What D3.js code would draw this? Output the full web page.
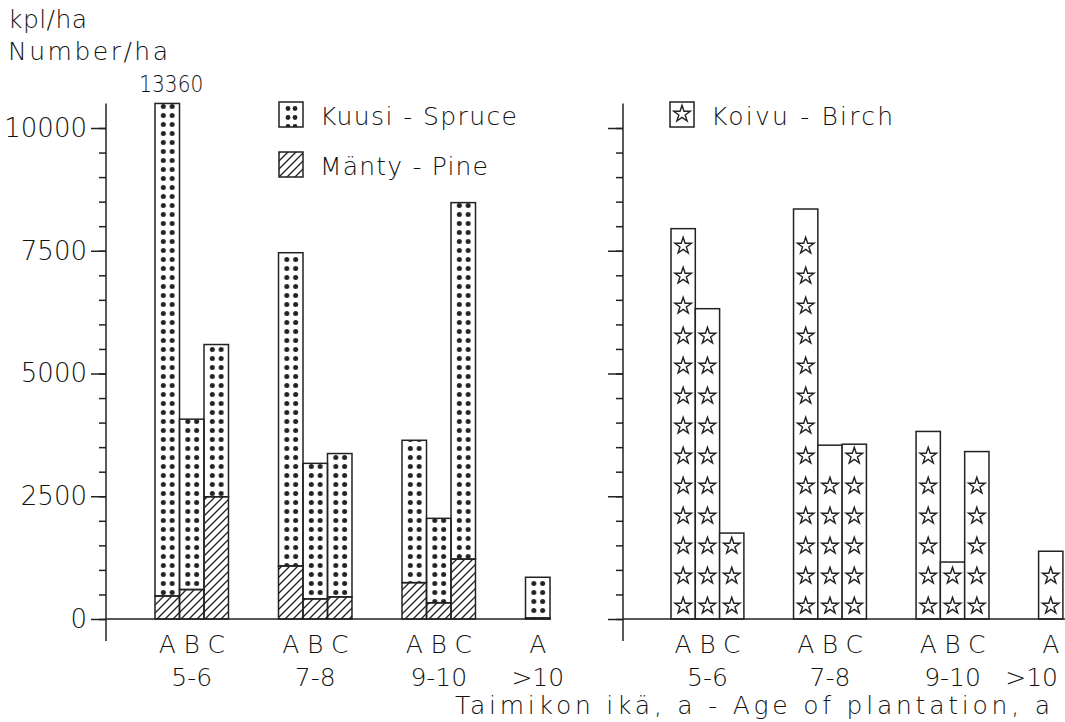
<!DOCTYPE html>
<html>
<head>
<meta charset="utf-8">
<script src="https://cdn.jsdelivr.net/npm/d3@7"></script>
<style>
  body { margin: 0; background: #fff; }
  text { font-family: "DejaVu Sans", sans-serif; font-weight: 200; fill: #111; }
</style>
</head>
<body>
<svg id="chart" width="1065" height="722"></svg>
<script>
const groups = ["5-6", "7-8", "9-10", ">10"];
const stands = ["A", "B", "C"];
const pine = [[470, 600, 2490], [1080, 410, 450], [740, 330, 1220], [20]];
const spruce = [[12890, 3470, 3100], [6380, 2760, 2920], [2900, 1720, 7260], [830]];
const birch = [[7950, 6320, 1750], [8350, 3540, 3560], [3820, 1160, 3410], [1380]];
const yTicks = [0, 2500, 5000, 7500, 10000];
const yMinorTicks = d3.range(0, 10001, 500);
const yTop = 10500;

const svg = d3.select("#chart");
const ink = "#222";

const y = d3.scaleLinear().domain([0, 10000]).range([619, 128]);
const xLeft = d3.scaleBand().domain(groups).range([155, 599]).paddingInner(0.405);
const xRight = d3.scaleBand().domain(groups).range([671, 1111.5]).paddingInner(0.405);
const xStandL = d3.scaleBand().domain(stands).range([0, xLeft.bandwidth()]);
const xStandR = d3.scaleBand().domain(stands).range([0, xRight.bandwidth()]);

const defs = svg.append("defs");

// hatch for pine
const hatch = defs.append("pattern")
  .attr("id", "hatch")
  .attr("patternUnits", "userSpaceOnUse")
  .attr("width", 8).attr("height", 8);
hatch.append("path")
  .attr("d", "M-2,2 L2,-2 M0,8 L8,0 M6,10 L10,6")
  .attr("stroke", ink).attr("stroke-width", 1.3);

function dotPattern(id, x0, w) {
  const p = defs.append("pattern")
    .attr("id", id)
    .attr("patternUnits", "userSpaceOnUse")
    .attr("x", x0).attr("y", y(0) - 4)
    .attr("width", w).attr("height", 9);
  p.append("circle").attr("cx", w * 0.34).attr("cy", 4.5).attr("r", 2.5).attr("fill", ink);
  p.append("circle").attr("cx", w * 0.7).attr("cy", 4.5).attr("r", 2.5).attr("fill", ink);
  return "url(#" + id + ")";
}

const star = d3.symbol().type(d3.symbolStar).size(85);

// rows
const leftRows = [];
const rightRows = [];
groups.forEach((g, gi) => {
  pine[gi].forEach((p, si) => {
    leftRows.push({ group: g, stand: stands[si], pine: p, spruce: spruce[gi][si] });
  });
  birch[gi].forEach((b, si) => {
    rightRows.push({ group: g, stand: stands[si], birch: b });
  });
});

// left panel bars
leftRows.forEach((d, i) => {
  const x0 = xLeft(d.group) + xStandL(d.stand);
  const w = xStandL.bandwidth();
  const total = Math.min(d.pine + d.spruce, yTop);
  svg.append("rect")
    .attr("x", x0).attr("y", y(total))
    .attr("width", w).attr("height", y(d.pine) - y(total))
    .attr("fill", dotPattern("dots" + i, x0, w))
    .attr("stroke", ink).attr("stroke-width", 1.5);
  svg.append("rect")
    .attr("x", x0).attr("y", y(d.pine))
    .attr("width", w).attr("height", y(0) - y(d.pine))
    .attr("fill", "url(#hatch)")
    .attr("stroke", ink).attr("stroke-width", 1.5);
  if (d.pine + d.spruce > yTop) {
    svg.append("text")
      .attr("x", x0 + w / 2 + 4).attr("y", 92)
      .attr("text-anchor", "middle")
      .attr("font-size", 23)
      .attr("textLength", 64).attr("lengthAdjust", "spacingAndGlyphs")
      .text(d.pine + d.spruce);
  }
});

// right panel bars
rightRows.forEach((d) => {
  const x0 = xRight(d.group) + xStandR(d.stand);
  const w = xStandR.bandwidth();
  svg.append("rect")
    .attr("x", x0).attr("y", y(d.birch))
    .attr("width", w).attr("height", y(0) - y(d.birch))
    .attr("fill", "#fff")
    .attr("stroke", ink).attr("stroke-width", 1.5);
  for (let cy = y(0) - 14; cy > y(d.birch) + 10; cy -= 30) {
    svg.append("path")
      .attr("d", star())
      .attr("transform", `translate(${x0 + w / 2},${cy + 1})`)
      .attr("fill", "none")
      .attr("stroke", ink).attr("stroke-width", 1.4);
  }
});

// axes
function drawAxis(xPos, withLabels, x1, x2) {
  svg.append("g")
    .attr("transform", `translate(${xPos},0)`)
    .call(d3.axisLeft(y).tickValues(yMinorTicks).tickSize(7).tickFormat(""))
    .call((g) => g.select(".domain").remove())
    .call((g) => g.selectAll("line").attr("stroke", ink).attr("stroke-width", 1.5));
  svg.append("g")
    .attr("transform", `translate(${xPos},0)`)
    .call(d3.axisLeft(y).tickValues(yTicks).tickSize(15).tickPadding(4)
      .tickFormat(withLabels ? d3.format("d") : ""))
    .call((g) => g.select(".domain").remove())
    .call((g) => g.selectAll("line").attr("stroke", ink).attr("stroke-width", 1.5))
    .call((g) => g.selectAll("text").attr("font-size", 26).attr("fill", "#111")
      .style("font-family", "DejaVu Sans").style("font-weight", 200));
  svg.append("line")
    .attr("x1", xPos).attr("x2", xPos)
    .attr("y1", y(yTop)).attr("y2", y(0) + 22)
    .attr("stroke", ink).attr("stroke-width", 1.5);
  svg.append("line")
    .attr("x1", x1).attr("x2", x2)
    .attr("y1", y(0)).attr("y2", y(0))
    .attr("stroke", ink).attr("stroke-width", 1.5);
}
drawAxis(106, true, 106, 551);
drawAxis(623, false, 623, 1065);

// x labels
function xLabels(xg, xs, lastEnd) {
  groups.forEach((g, gi) => {
    const n = birch[gi].length;
    stands.slice(0, n).forEach((s) => {
      svg.append("text")
        .attr("x", xg(g) + xs(s) + xs.bandwidth() / 2)
        .attr("y", 653)
        .attr("text-anchor", "middle")
        .attr("font-size", 25)
        .text(s);
    });
    const cx = n === 3 ? xg(g) + xg.bandwidth() / 2 : xg(g) + xs.bandwidth() / 2;
    const t = svg.append("text")
      .attr("y", 686)
      .attr("font-size", 25)
      .text(g);
    if (n < 3 && lastEnd) t.attr("x", lastEnd).attr("text-anchor", "end");
    else t.attr("x", cx).attr("text-anchor", "middle");
  });
}
xLabels(xLeft, xStandL, null);
xLabels(xRight, xStandR, 1058);

svg.append("text")
  .attr("x", 455).attr("y", 714)
  .attr("font-size", 25)
  .attr("textLength", 595).attr("lengthAdjust", "spacing")
  .text("Taimikon ikä, a - Age of plantation, a");

// y title
svg.append("text").attr("x", 8).attr("y", 28).attr("font-size", 25)
  .attr("textLength", 79).attr("lengthAdjust", "spacing").text("kpl/ha");
svg.append("text").attr("x", 8).attr("y", 60).attr("font-size", 25)
  .attr("textLength", 160).attr("lengthAdjust", "spacing").text("Number/ha");

// legends
const legendItems = [
  { label: "Kuusi - Spruce", x: 279, y: 102, len: 197, kind: "dots" },
  { label: "Mänty - Pine", x: 279, y: 152, len: 168, kind: "hatch" },
  { label: "Koivu - Birch", x: 670, y: 102, len: 182, kind: "star" }
];
legendItems.forEach((d) => {
  let fill = "#fff";
  if (d.kind === "dots") {
    fill = "url(#legdots)";
    const p = defs.append("pattern").attr("id", "legdots")
      .attr("patternUnits", "userSpaceOnUse")
      .attr("x", d.x).attr("y", d.y + 2).attr("width", 24).attr("height", 9);
    p.append("circle").attr("cx", 9).attr("cy", 4.5).attr("r", 2.4).attr("fill", ink);
    p.append("circle").attr("cx", 16).attr("cy", 4.5).attr("r", 2.4).attr("fill", ink);
  }
  if (d.kind === "hatch") fill = "url(#hatch)";
  svg.append("rect")
    .attr("x", d.x).attr("y", d.y).attr("width", 24).attr("height", 25)
    .attr("fill", fill).attr("stroke", ink).attr("stroke-width", 1.5);
  if (d.kind === "star") {
    svg.append("path").attr("d", star())
      .attr("transform", `translate(${d.x + 12},${d.y + 12})`)
      .attr("fill", "none").attr("stroke", ink).attr("stroke-width", 1.4);
  }
  svg.append("text")
    .attr("x", d.x + 41).attr("y", d.y + 23)
    .attr("font-size", 25)
    .attr("textLength", d.len).attr("lengthAdjust", "spacing")
    .text(d.label);
});
</script>
</body>
</html>
